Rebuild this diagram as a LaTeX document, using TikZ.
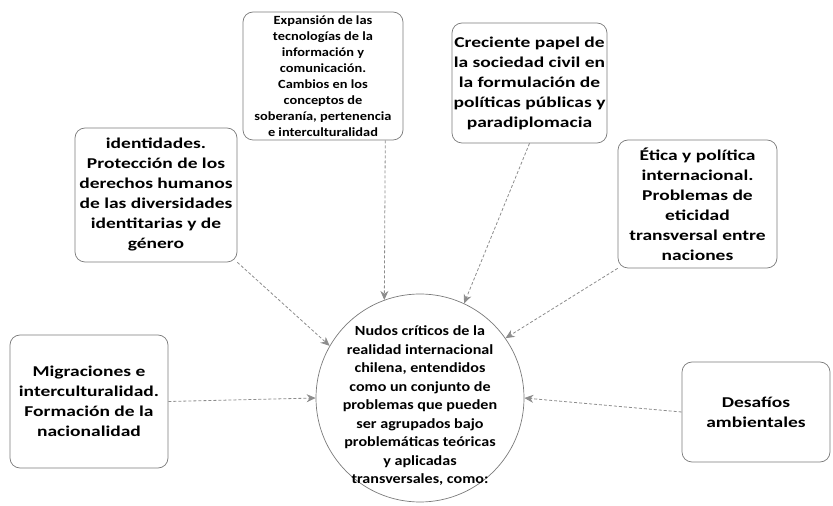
\documentclass[tikz,border=0pt]{standalone}
\usepackage{fontspec}
\setmainfont{Carlito}
\newfontfamily\widefont[FakeStretch=1.3]{Carlito}
\newfontfamily\narrowfont[FakeStretch=1.15]{Carlito}
\usetikzlibrary{arrows.meta,calc}
\definecolor{framegray}{HTML}{7A7A7A}
\definecolor{linkgray}{HTML}{8C8C8C}

\begin{document}
\begin{tikzpicture}[x=1pt,y=1pt,
  topic/.style={draw=framegray,line width=0.7pt,rounded corners=10pt,align=center,inner sep=0pt,
    font=\widefont\bfseries\fontsize{15}{20}\selectfont},
  link/.style={draw=linkgray,line width=0.8pt,densely dashed,-{Stealth[length=9pt,width=8pt]}}]
  \useasboundingbox (0,0) rectangle (833,506);
  \node[topic,minimum width=160,minimum height=128,font=\narrowfont\bfseries\fontsize{12.5}{16}\selectfont] (tic) at (323,430)
    {Expansión de las\\tecnologías de la\\información y\\comunicación.\\Cambios en los\\conceptos de\\soberanía, pertenencia\\e interculturalidad};
  \node[topic,minimum width=155,minimum height=120] (civil) at (529.5,423)
    {Creciente papel de\\la sociedad civil en\\la formulación de\\políticas públicas y\\paradiplomacia};
  \node[topic,minimum width=162,minimum height=134] (ident) at (156,311)
    {identidades.\\Protección de los\\derechos humanos\\de las diversidades\\identitarias y de\\género};
  \node[topic,minimum width=159,minimum height=128] (etica) at (697.5,302)
    {Ética y política\\internacional.\\Problemas de\\eticidad\\transversal entre\\naciones};
  \node[topic,minimum width=158,minimum height=133] (migra) at (89,104.5)
    {Migraciones e\\interculturalidad.\\Formación de la\\nacionalidad};
  \node[topic,minimum width=148,minimum height=100] (amb) at (756,94)
    {Desafíos\\ambientales};
  \node[draw=framegray,line width=0.7pt,circle,minimum size=208,inner sep=0pt] (nudos) at (420,108) {};
  \node[align=center,font=\narrowfont\bfseries\fontsize{14}{18.5}\selectfont] (nudostxt) at (420,100)
    {Nudos críticos de la\\realidad internacional\\chilena, entendidos\\como un conjunto de\\problemas que pueden\\ser agrupados bajo\\problemáticas teóricas\\y aplicadas\\transversales, como:};
  \draw[link] (ident.south east) -- (nudos.150);
  \draw[link] ($(tic.south)!0.775!(tic.south east)$) -- (nudos.110);
  \draw[link] (civil.south) -- (nudos.65);
  \draw[link] (etica.south west) -- (nudos.35);
  \draw[link] (migra.east) -- (nudos.west);
  \draw[link] (amb.west) -- (nudos.east);
\end{tikzpicture}
\end{document}
